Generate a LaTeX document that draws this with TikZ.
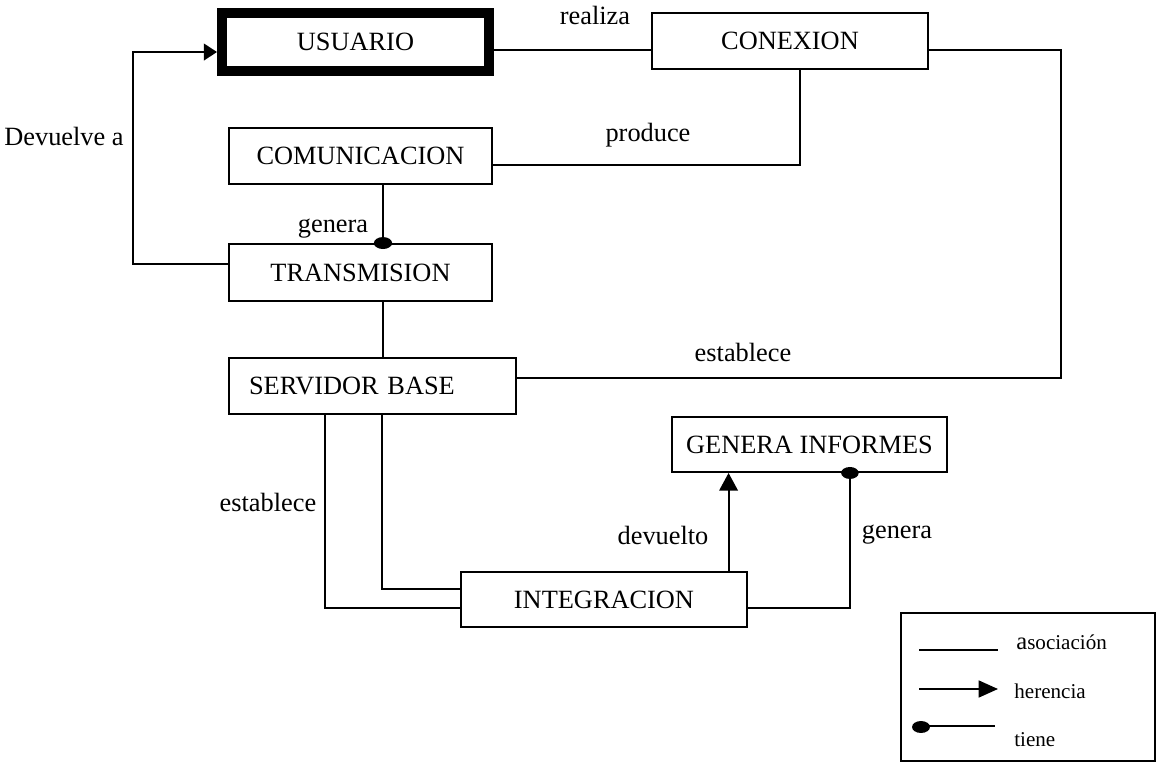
\documentclass[tikz,border=0pt]{standalone}
\usepackage{fontspec}
\setmainfont{Liberation Serif}
\usetikzlibrary{arrows.meta}
\begin{document}
\begin{tikzpicture}[x=0.02cm,y=-0.02cm,
  every node/.style={font=\fontsize{15}{18}\selectfont},
  entity/.style={draw,line width=1.1pt,inner sep=0pt,align=center},
  link/.style={line width=1.1pt},
  lbl/.style={inner sep=0pt},
  inherit/.style={link,-{Triangle[length=10pt,width=10.5pt]}},
  legtxt/.style={inner sep=0pt,anchor=west,font=\fontsize{12}{14}\selectfont}]
\useasboundingbox (0,0) rectangle (1164,768);

% classes
\node[entity,line width=5.7pt,minimum width=5.34cm,minimum height=1.16cm] (usuario) at (355.5,42) {USUARIO};
\node[entity,minimum width=5.52cm,minimum height=1.12cm] (conexion) at (790,41) {CONEXION};
\node[entity,minimum width=5.26cm,minimum height=1.12cm] (comunic) at (360.5,156) {COMUNICACION};
\node[entity,minimum width=5.26cm,minimum height=1.14cm] (trans) at (360.5,272.5) {TRANSMISION};
\node[entity,text width=4.94cm,inner xsep=0.4cm,align=left,minimum height=1.12cm] (serv) at (372.5,386) {SERVIDOR BASE};
\node[entity,minimum width=5.5cm,minimum height=1.1cm] (genera) at (809.5,444.5) {GENERA INFORMES};
\node[entity,minimum width=5.72cm,minimum height=1.1cm] (integ) at (604,599.5) {INTEGRACION};

% relations
\draw[link,-{Triangle[length=7.5pt,width=9.5pt]}] ([yshift=4.8pt]trans.west) -- ++(-95,0) |- ([yshift=-5.7pt]usuario.west);
\draw[link] ([yshift=-4.5pt]usuario.east) -- ([yshift=-4.5pt]usuario.east -| conexion.west);
\draw[link] ([yshift=-5.1pt]conexion.east) -- ++(132,0) |- ([yshift=4.5pt]serv.east);
\draw[link] ([xshift=5.7pt]conexion.south) |- ([yshift=-5.1pt]comunic.east);
\draw[link] ([xshift=12.8pt]comunic.south) -- ([xshift=12.8pt]comunic.south |- trans.north);
\fill ([xshift=12.8pt]comunic.south |- trans.north) ellipse [x radius=5.2pt, y radius=3.4pt];
\draw[link] ([xshift=12.8pt]trans.south) -- ([xshift=12.8pt]trans.south |- serv.north);
\draw[link] ([xshift=-26.9pt]serv.south) |- ([yshift=-4.8pt]integ.west);
\draw[link] ([xshift=5.4pt]serv.south) |- ([yshift=6pt]integ.west);
\draw[inherit] ([xshift=70.9pt]integ.north) -- ([xshift=70.9pt]integ.north |- genera.south);
\draw[link] ([yshift=-4.8pt]integ.east) -| ([xshift=23pt]genera.south);
\fill ([xshift=23pt]genera.south) ellipse [x radius=5pt, y radius=3.4pt];

% relation names
\node[lbl] (l1) at (595,15) {realiza};
\node[lbl] (l2) at (64,136) {Devuelve a};
\node[lbl] (l3) at (648,135) {produce};
\node[lbl] (l4) at (333,229) {genera};
\node[lbl] (l5) at (743,352) {establece};
\node[lbl] (l6) at (268,502) {establece};
\node[lbl] (l7) at (663,535) {devuelto};
\node[lbl] (l8) at (897,535) {genera};

% legend
\node[draw,line width=1.1pt,minimum width=5.08cm,minimum height=2.96cm,inner sep=0pt] (legend) at (1028,687) {};
\draw[line width=1.1pt] (919,650) -- (998,650);
\node[legtxt] (t1) at (1016,642) {{\fontsize{14}{14}\selectfont a}sociación};
\draw[line width=1.1pt,-{Triangle[length=11pt,width=9.6pt]}] (919,689) -- (998,689);
\node[legtxt] (t2) at (1014,691) {herencia};
\fill (921,727) ellipse [x radius=5.1pt, y radius=3.4pt];
\draw[line width=1.1pt] (921,726) -- (995,726);
\node[legtxt] (t3) at (1014,740) {tiene};
\end{tikzpicture}
\end{document}
